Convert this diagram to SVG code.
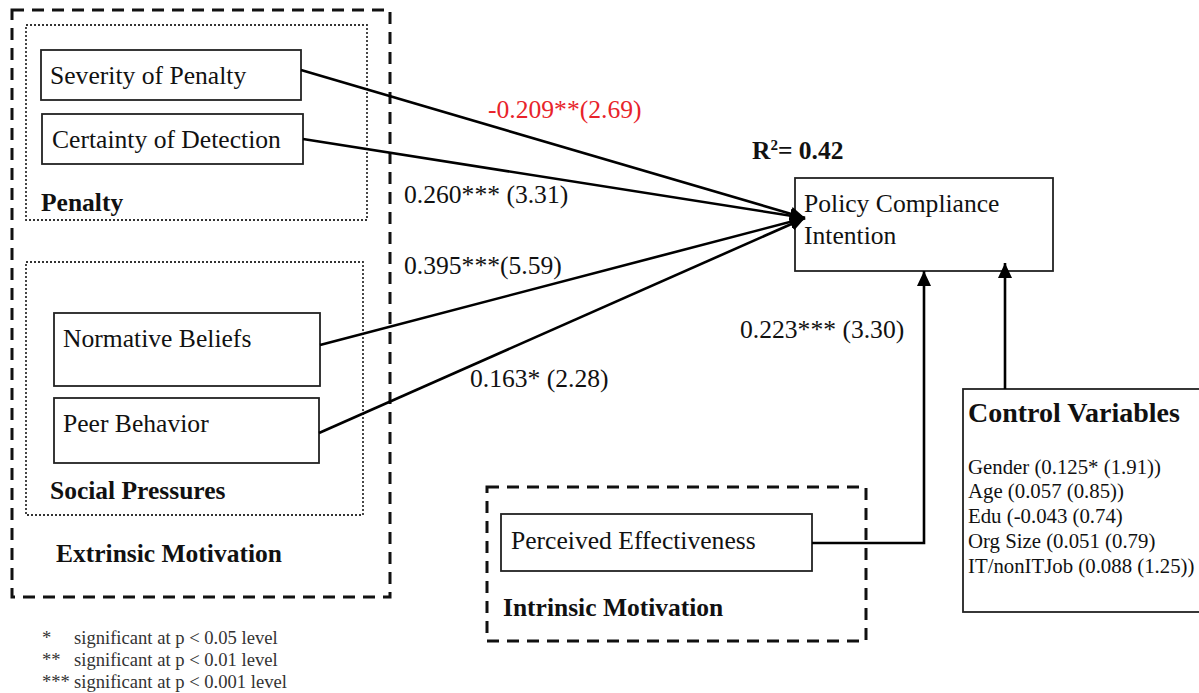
<svg xmlns="http://www.w3.org/2000/svg" width="1199" height="693" viewBox="0 0 1199 693">
<style>
text{font-family:"Liberation Serif","Times New Roman",serif;fill:#111}
.t{font-size:25.6px}
.b{font-size:25.5px;font-weight:bold}
.cv{font-size:20.8px}
.fn{font-size:18.6px;fill:#333}
.box{fill:#fff;stroke:#222;stroke-width:1.8}
.dash{fill:none;stroke:#111;stroke-width:3;stroke-dasharray:12 8}
.dot{fill:none;stroke:#333;stroke-width:1.8;stroke-dasharray:2 2}
.ln{fill:none;stroke:#000;stroke-width:2.6}
.red{fill:#e8232a}
</style>
<defs>
<marker id="ah" markerUnits="userSpaceOnUse" markerWidth="16" markerHeight="14" refX="15" refY="7" orient="auto">
<path d="M0,0 L15,7 L0,14 z" fill="#000"/>
</marker>
</defs>
<rect width="1199" height="693" fill="#fff"/>

<g id="extrinsic">
<rect class="dash" x="12" y="10" width="378" height="587"/>
<text class="b" x="56" y="562">Extrinsic Motivation</text>
</g>
<g id="penalty">
<rect class="dot" x="26" y="25" width="341" height="195"/>
<text class="b" x="41" y="211">Penalty</text>
</g>
<g id="social">
<rect class="dot" x="26" y="262" width="337" height="253"/>
<text class="b" x="50" y="499">Social Pressures</text>
</g>
<g id="severity">
<rect class="box" x="41" y="50" width="260" height="50"/>
<text class="t" x="50" y="84">Severity of Penalty</text>
</g>
<g id="certainty">
<rect class="box" x="42" y="114" width="261" height="50"/>
<text class="t" x="52" y="148">Certainty of Detection</text>
</g>
<g id="normative">
<rect class="box" x="54" y="313" width="266" height="73"/>
<text class="t" x="63" y="347">Normative Beliefs</text>
</g>
<g id="peer">
<rect class="box" x="54" y="398" width="265" height="65"/>
<text class="t" x="63" y="432">Peer Behavior</text>
</g>

<g id="intrinsic">
<rect class="dash" x="487" y="487" width="379" height="154"/>
<text class="b" x="503" y="616">Intrinsic Motivation</text>
</g>
<g id="perceived">
<rect class="box" x="501" y="514" width="311" height="57"/>
<text class="t" x="511" y="549">Perceived Effectiveness</text>
</g>

<g id="policy">
<rect class="box" x="795" y="178" width="258" height="93"/>
<text class="t" x="804" y="212">Policy Compliance</text>
<text class="t" x="804" y="244">Intention</text>
<text class="b" x="752" y="159">R<tspan font-size="15" dy="-9">2</tspan><tspan dy="9">= 0.42</tspan></text>
</g>

<g id="control">
<rect class="box" x="963" y="389" width="250" height="223"/>
<text x="968" y="422" style="font-size:28px;font-weight:bold">Control Variables</text>
<text class="cv" x="968" y="474">Gender (0.125* (1.91))</text>
<text class="cv" x="968" y="498">Age (0.057 (0.85))</text>
<text class="cv" x="968" y="523">Edu (-0.043 (0.74)</text>
<text class="cv" x="968" y="548">Org Size (0.051 (0.79)</text>
<text class="cv" x="968" y="573">IT/nonITJob (0.088 (1.25))</text>
</g>

<g id="connectors">
<line class="ln" x1="301" y1="70" x2="805" y2="218" marker-end="url(#ah)"/>
<line class="ln" x1="303" y1="139" x2="805" y2="218" marker-end="url(#ah)"/>
<line class="ln" x1="320" y1="345" x2="805" y2="218" marker-end="url(#ah)"/>
<line class="ln" x1="319" y1="433" x2="805" y2="218" marker-end="url(#ah)"/>
<polyline class="ln" points="812,543 924,543 924,271" marker-end="url(#ah)"/>
<line class="ln" x1="1005" y1="389" x2="1005" y2="263" marker-end="url(#ah)"/>
<text class="t red" x="488" y="118">-0.209**(2.69)</text>
<text class="t" x="404" y="203">0.260*** (3.31)</text>
<text class="t" x="404" y="274">0.395***(5.59)</text>
<text class="t" x="470" y="387">0.163* (2.28)</text>
<text class="t" x="740" y="338">0.223*** (3.30)</text>
</g>

<g id="legend">
<text class="fn" x="42" y="644">*</text>
<text class="fn" x="74" y="644">significant at p &lt; 0.05 level</text>
<text class="fn" x="42" y="666">**</text>
<text class="fn" x="74" y="666">significant at p &lt; 0.01 level</text>
<text class="fn" x="42" y="688">***</text>
<text class="fn" x="74" y="688">significant at p &lt; 0.001 level</text>
</g>
</svg>
